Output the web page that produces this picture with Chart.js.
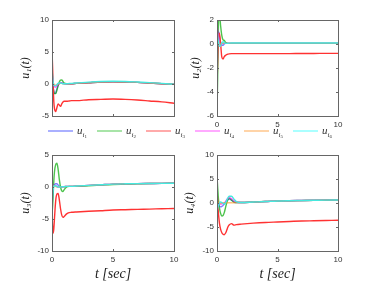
<!DOCTYPE html>
<html>
<head>
<meta charset="utf-8">
<script src="https://cdn.jsdelivr.net/npm/chart.js@4.4.0/dist/chart.umd.min.js"></script>
<style>
  body { margin: 0; background: #fff; }
  #wrap { position: relative; width: 373px; height: 283px; overflow: hidden; }
  #wrap canvas { position: absolute; left: 0; top: 0; }
  #legend { position: absolute; left: 48px; top: 124px; height: 14px; display: flex; font-family: "Liberation Serif", serif; font-size: 11px; color: #333; }
  .item { width: 49px; display: flex; align-items: center; }
  .swatch { width: 25px; height: 2px; margin-right: 4px; }
  .item i { font-style: italic; }
  sub { font-size: 7px; vertical-align: -3px; }
  sub sub { font-size: 5px; vertical-align: -1px; font-style: normal; }
</style>
</head>
<body>
<div id="wrap">
  <canvas id="c1" width="373" height="283"></canvas>
  <canvas id="c2" width="373" height="283"></canvas>
  <canvas id="c3" width="373" height="283"></canvas>
  <canvas id="c4" width="373" height="283"></canvas>
  <div id="legend"></div>
</div>
<script>
// time samples (s)
const t = [0, 0.05, 0.1, 0.15, 0.2, 0.3, 0.4, 0.5, 0.6, 0.7, 0.8, 0.9, 1.0, 1.2, 1.4, 1.6, 2, 3, 4, 5, 6, 7, 8, 9, 10];

const seriesNames = ['u_i1', 'u_i2', 'u_i3', 'u_i4', 'u_i5', 'u_i6'];
const lineColors = ['rgba(40,40,255,0.6)', 'rgba(0,170,0,0.7)', 'rgb(255,50,50)', 'rgba(255,0,255,0.6)', 'rgba(255,150,30,0.6)', 'rgb(70,232,222)'];
const legendColors = ['#aab0ff', '#a8e4a8', '#ffaaaa', '#ffaaff', '#ffd4a8', '#aaffff'];

// u1
const u1_1 = [2.3, 1.0, -0.5, -1.2, -1.5, -1.4, -0.8, -0.2, 0.1, 0.2, 0.2, 0.1, 0.05, 0.05, 0.05, 0.05, 0.1, 0.2, 0.3, 0.35, 0.3, 0.25, 0.15, 0.05, -0.05];
const u1_2 = [1.0, 0.3, -0.6, -1.2, -1.5, -1.5, -1.0, -0.3, 0.3, 0.6, 0.65, 0.4, 0.15, 0.05, 0.05, 0.05, 0.1, 0.2, 0.3, 0.35, 0.3, 0.25, 0.15, 0.05, -0.05];
const u1_3 = [5.3, 2.5, -0.5, -2.8, -3.8, -4.3, -3.7, -3.1, -3.3, -3.5, -3.1, -2.8, -2.7, -2.7, -2.65, -2.6, -2.6, -2.45, -2.4, -2.35, -2.4, -2.5, -2.65, -2.8, -3.0];
const u1_4 = [1.5, 0.8, 0.2, -0.2, -0.4, -0.5, -0.3, -0.1, 0.1, 0.2, 0.2, 0.1, 0.05, 0.05, 0.05, 0.05, 0.1, 0.2, 0.3, 0.35, 0.3, 0.25, 0.15, 0.05, -0.05];
const u1_5 = [0.8, 0.5, 0.2, 0.0, -0.1, -0.2, -0.1, 0.0, 0.05, 0.1, 0.1, 0.05, 0.05, 0.05, 0.05, 0.05, 0.1, 0.2, 0.3, 0.35, 0.3, 0.25, 0.15, 0.05, -0.05];
const u1_6 = [2.6, 1.2, 0.2, -0.2, -0.3, -0.3, -0.1, 0.1, 0.15, 0.15, 0.1, 0.05, 0.05, 0.05, 0.08, 0.1, 0.15, 0.3, 0.4, 0.42, 0.4, 0.32, 0.22, 0.1, -0.05];

// u2
const u2_1 = [-3.0, -0.5, 0.8, 1.0, 0.6, 0.1, -0.1, -0.1, 0.0, 0.05, 0.05, 0.05, 0.05, 0.05, 0.05, 0.05, 0.05, 0.05, 0.05, 0.05, 0.05, 0.05, 0.05, 0.05, 0.05];
const u2_2 = [-5.8, -3.0, 0.5, 2.5, 2.6, 1.5, 0.7, 0.35, 0.3, 0.15, 0.1, 0.05, 0.05, 0.05, 0.05, 0.05, 0.05, 0.05, 0.05, 0.05, 0.05, 0.05, 0.05, 0.05, 0.05];
const u2_3 = [-3.6, -1.5, 0.3, 0.8, 0.9, 0.0, -1.1, -1.25, -1.05, -0.95, -0.88, -0.84, -0.82, -0.8, -0.8, -0.8, -0.8, -0.8, -0.8, -0.8, -0.8, -0.79, -0.79, -0.78, -0.78];
const u2_4 = [1.5, 1.2, 0.8, 0.4, 0.1, -0.1, 0.0, 0.05, 0.05, 0.05, 0.05, 0.05, 0.05, 0.05, 0.05, 0.05, 0.05, 0.05, 0.05, 0.05, 0.05, 0.05, 0.05, 0.05, 0.05];
const u2_5 = [0.5, 0.4, 0.3, 0.2, 0.1, 0.0, 0.05, 0.05, 0.05, 0.05, 0.05, 0.05, 0.05, 0.05, 0.05, 0.05, 0.05, 0.05, 0.05, 0.05, 0.05, 0.05, 0.05, 0.05, 0.05];
const u2_6 = [1.3, 0.8, 0.3, 0.0, -0.2, -0.15, 0.1, 0.2, 0.1, 0.05, 0.05, 0.06, 0.07, 0.08, 0.08, 0.08, 0.08, 0.08, 0.08, 0.08, 0.08, 0.08, 0.08, 0.08, 0.08];

// u3
const u3_1 = [-3.5, -1.5, 0.0, 0.3, 0.4, 0.5, 0.5, 0.3, 0.1, 0.0, 0.0, 0.05, 0.05, 0.1, 0.1, 0.1, 0.15, 0.25, 0.35, 0.45, 0.5, 0.53, 0.55, 0.57, 0.58];
const u3_2 = [-4.2, -3.0, -1.0, 1.0, 2.3, 3.5, 3.7, 2.8, 1.2, 0.0, -0.6, -0.7, -0.4, 0.0, 0.1, 0.1, 0.1, 0.2, 0.3, 0.4, 0.45, 0.5, 0.55, 0.57, 0.58];
const u3_3 = [-4.0, -6.3, -7.2, -6.5, -5.0, -2.2, -1.1, -1.0, -2.0, -3.4, -4.4, -4.75, -4.6, -4.2, -4.0, -3.95, -3.9, -3.8, -3.7, -3.6, -3.55, -3.5, -3.45, -3.4, -3.35];
const u3_4 = [-2.0, -0.5, 0.2, 0.3, 0.3, 0.2, 0.1, 0.0, 0.0, 0.0, 0.05, 0.05, 0.05, 0.1, 0.1, 0.1, 0.15, 0.25, 0.35, 0.45, 0.5, 0.53, 0.55, 0.57, 0.58];
const u3_5 = [-1.0, -0.3, 0.1, 0.2, 0.2, 0.1, 0.0, 0.0, 0.0, 0.0, 0.05, 0.05, 0.05, 0.1, 0.1, 0.1, 0.15, 0.25, 0.35, 0.45, 0.5, 0.53, 0.55, 0.57, 0.58];
const u3_6 = [-3.0, -1.5, -0.3, 0.1, 0.2, 0.2, 0.1, 0.0, 0.0, 0.0, 0.05, 0.05, 0.05, 0.1, 0.1, 0.1, 0.15, 0.25, 0.35, 0.45, 0.5, 0.53, 0.55, 0.57, 0.58];

// u4
const u4_1 = [0.5, 0.2, -0.1, -0.4, -0.6, -0.8, -0.7, -0.5, -0.2, 0.1, 0.5, 0.7, 0.8, 0.6, 0.2, 0.1, 0.1, 0.2, 0.3, 0.42, 0.48, 0.52, 0.56, 0.6, 0.62];
const u4_2 = [5.6, 3.5, 1.5, 0.0, -1.0, -2.2, -2.7, -2.6, -2.0, -1.0, 0.0, 0.7, 1.0, 0.6, 0.2, 0.1, 0.1, 0.2, 0.3, 0.4, 0.45, 0.5, 0.55, 0.58, 0.6];
const u4_3 = [2.8, 0.5, -1.5, -3.0, -4.2, -5.5, -6.2, -6.5, -6.6, -6.3, -5.7, -5.0, -4.6, -4.3, -4.6, -4.5, -4.4, -4.2, -4.05, -3.95, -3.85, -3.75, -3.7, -3.65, -3.6];
const u4_4 = [-1.0, -0.8, -0.6, -0.4, -0.3, -0.2, -0.2, -0.1, 0.0, 0.3, 0.7, 1.0, 1.1, 0.9, 0.4, 0.2, 0.1, 0.2, 0.3, 0.42, 0.48, 0.52, 0.56, 0.6, 0.62];
const u4_5 = [0.3, 0.2, 0.1, 0.0, -0.1, -0.1, 0.0, 0.05, 0.05, 0.05, 0.05, 0.05, 0.05, 0.05, 0.05, 0.1, 0.1, 0.2, 0.3, 0.42, 0.48, 0.52, 0.56, 0.6, 0.62];
const u4_6 = [-1.8, -1.2, -0.7, -0.3, 0.0, 0.2, 0.1, -0.1, -0.2, 0.0, 0.5, 1.1, 1.4, 1.4, 0.8, 0.3, 0.1, 0.2, 0.3, 0.42, 0.48, 0.52, 0.56, 0.6, 0.62];

const xTicks = [0, 5, 10];
const yTicks1 = [-5, 0, 5, 10];
const yTicks2 = [-6, -4, -2, 0, 2];
const yTicks3 = [-10, -5, 0, 5];
const yTicks4 = [-10, -5, 0, 5, 10];

const TICK_FONT = { family: 'Liberation Sans', size: 8 };
const TITLE_FONT = { family: 'Liberation Serif', size: 12, style: 'italic' };

// frame plus small inward ticks on every side
const framePlugin = {
    id: 'frame',
    afterDraw(chart) {
        const { ctx, chartArea: a, scales } = chart;
        ctx.save();
        ctx.strokeStyle = '#666';
        ctx.lineWidth = 1;
        ctx.strokeRect(Math.round(a.left) + 0.5, Math.round(a.top) + 0.5, Math.round(a.right - a.left), Math.round(a.bottom - a.top));
        ctx.beginPath();
        scales.y.ticks.forEach(tk => {
            const y = Math.round(scales.y.getPixelForValue(tk.value)) + 0.5;
            ctx.moveTo(a.left, y); ctx.lineTo(a.left + 2, y);
            ctx.moveTo(a.right, y); ctx.lineTo(a.right - 2, y);
        });
        scales.x.ticks.forEach(tk => {
            const x = Math.round(scales.x.getPixelForValue(tk.value)) + 0.5;
            ctx.moveTo(x, a.bottom); ctx.lineTo(x, a.bottom - 2);
            ctx.moveTo(x, a.top); ctx.lineTo(x, a.top + 2);
        });
        ctx.stroke();
        ctx.restore();
    }
};

function makePanel(id, series, yTicks, yLabel, box) {
    const datasets = series.map((vals, i) => ({
        label: seriesNames[i],
        data: t.map((tt, k) => ({ x: tt, y: vals[k] })),
        borderColor: lineColors[i],
        borderWidth: 1.4,
        pointRadius: 0,
        fill: false,
        cubicInterpolationMode: 'monotone',
        order: 6 - i
    }));

    new Chart(document.getElementById(id), {
        type: 'line',
        data: { datasets: datasets },
        options: {
            responsive: false,
            animation: false,
            devicePixelRatio: 1,
            layout: { padding: { left: box.padLeft, right: 373 - box.right, top: box.top, bottom: box.padBottom } },
            plugins: { legend: { display: false }, tooltip: { enabled: false } },
            scales: {
                x: {
                    type: 'linear',
                    min: 0,
                    max: 10,
                    afterBuildTicks: s => { s.ticks = xTicks.map(v => ({ value: v })); },
                    afterFit: s => { s.height = box.xHeight; },
                    grid: { display: false, drawTicks: false },
                    border: { display: false },
                    ticks: { display: box.xLabels, font: TICK_FONT, color: '#333', padding: 4, maxRotation: 0 },
                    title: {
                        display: box.xTitle,
                        text: 't [sec]',
                        font: { family: 'Liberation Serif', size: 14, style: 'italic' },
                        color: '#222',
                        padding: { top: 0, bottom: 0 }
                    }
                },
                y: {
                    min: yTicks[0],
                    max: yTicks[yTicks.length - 1],
                    afterBuildTicks: s => { s.ticks = yTicks.map(v => ({ value: v })); },
                    afterFit: s => { s.width = box.left - box.padLeft; },
                    grid: { display: false, drawTicks: false },
                    border: { display: false },
                    ticks: { font: TICK_FONT, color: '#333', padding: 3 },
                    title: { display: true, text: yLabel, font: TITLE_FONT, color: '#222', padding: { top: 4, bottom: 0 } }
                }
            }
        },
        plugins: [framePlugin]
    });
}

makePanel('c1', [u1_1, u1_2, u1_3, u1_4, u1_5, u1_6], yTicks1, 'u\u2081(t)',
    { padLeft: 15, left: 52, right: 174, top: 20, xHeight: 14, padBottom: 283 - 116 - 14, xLabels: false, xTitle: false });
makePanel('c2', [u2_1, u2_2, u2_3, u2_4, u2_5, u2_6], yTicks2, 'u\u2082(t)',
    { padLeft: 185, left: 217, right: 338, top: 20, xHeight: 14, padBottom: 283 - 116 - 14, xLabels: true, xTitle: false });
makePanel('c3', [u3_1, u3_2, u3_3, u3_4, u3_5, u3_6], yTicks3, 'u\u2083(t)',
    { padLeft: 15, left: 52, right: 174, top: 155, xHeight: 32, padBottom: 0, xLabels: true, xTitle: true });
makePanel('c4', [u4_1, u4_2, u4_3, u4_4, u4_5, u4_6], yTicks4, 'u\u2084(t)',
    { padLeft: 179, left: 217, right: 338, top: 155, xHeight: 32, padBottom: 0, xLabels: true, xTitle: true });

// legend row between the panels
const legend = document.getElementById('legend');
seriesNames.forEach((name, i) => {
    const item = document.createElement('div');
    item.className = 'item';
    item.innerHTML = '<span class="swatch" style="background:' + legendColors[i] + '"></span>' +
        '<span><i>u</i><sub><i>i</i><sub>' + (i + 1) + '</sub></sub></span>';
    legend.appendChild(item);
});
</script>
</body>
</html>
